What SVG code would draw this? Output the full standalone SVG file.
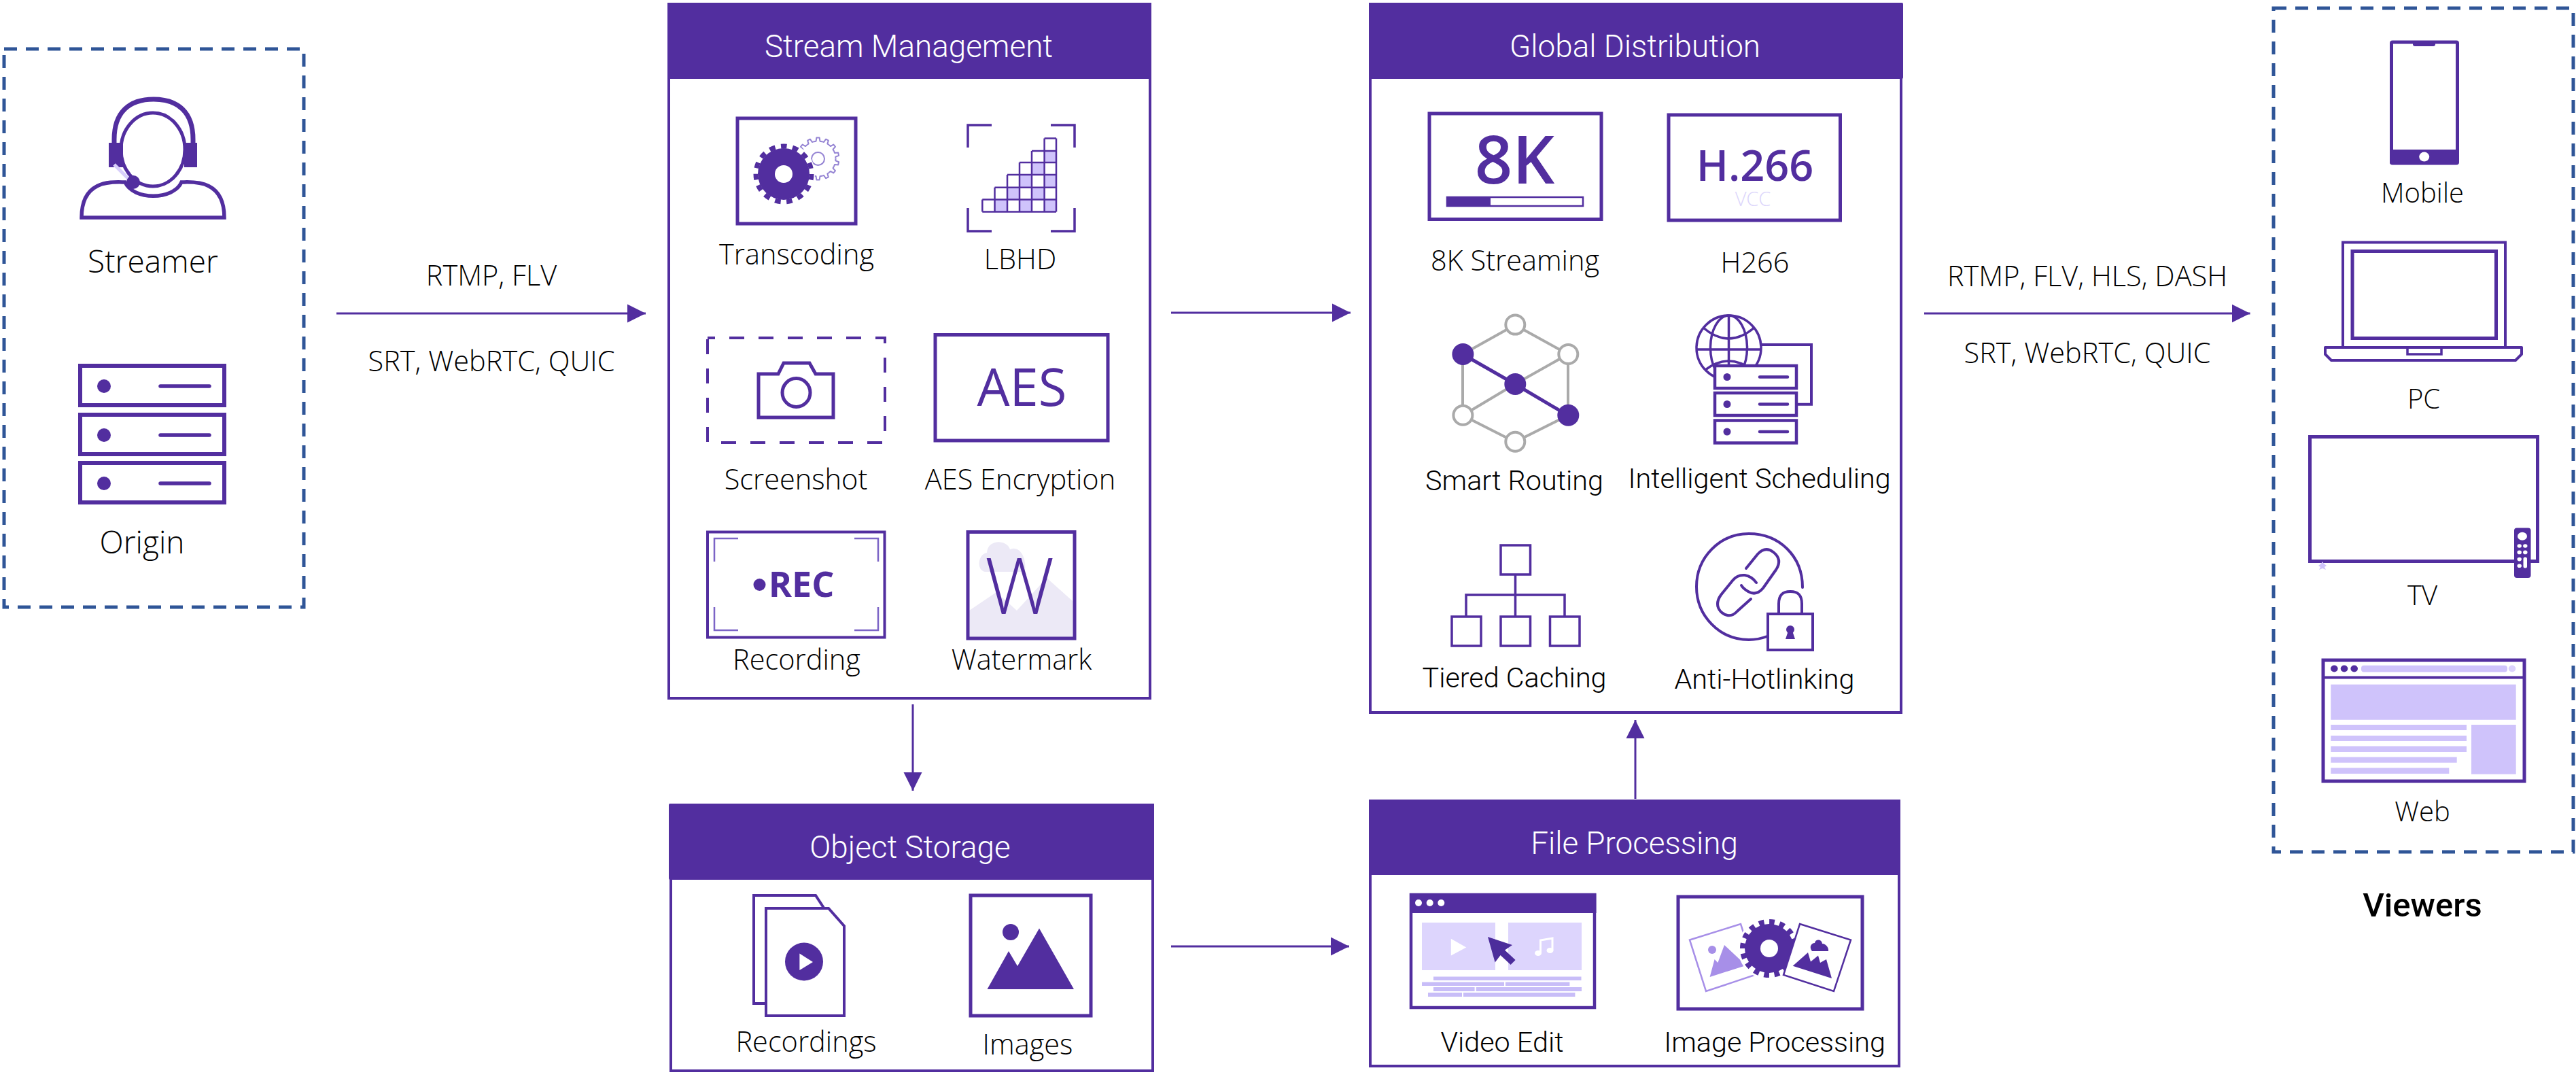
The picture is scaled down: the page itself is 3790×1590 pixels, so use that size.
<svg xmlns="http://www.w3.org/2000/svg" width="3790" height="1590" viewBox="0 0 3790 1590">
<style>
text{text-anchor:middle}
.os{font-family:"Open Sans","Liberation Sans",sans-serif;font-weight:300;font-size:41.5px;fill:#000}
.rb{font-family:Roboto,"Liberation Sans",sans-serif;font-weight:300;font-size:41.3px;fill:#000}
.ti{font-family:Roboto,"Liberation Sans",sans-serif;font-weight:300;font-size:45.8px;fill:#fff}
.pt{font-family:"Open Sans","Liberation Sans",sans-serif;fill:#522e9f}
.s{fill:none;stroke:#522e9f;stroke-width:5}
.w{fill:#fff;stroke:#522e9f;stroke-width:5}
.f{fill:#522e9f}
.l{fill:#cfc3fb}
.dash{fill:none;stroke:#2f5597;stroke-width:5;stroke-dasharray:19 13}
.box{fill:#fff;stroke:#522e9f;stroke-width:4}
.con{fill:none;stroke:#522e9f;stroke-width:3}
.g{fill:#fff;stroke:#aaa;stroke-width:4}
.ge{stroke:#aaa;stroke-width:4;fill:none}
</style>
<defs>
<marker id="ah" markerUnits="userSpaceOnUse" markerWidth="28" markerHeight="30" refX="27" refY="14" orient="auto"><path d="M0 0.5L27 14L0 27.5Z" fill="#522e9f"/></marker>
<g id="srv"><rect x="0" y="0" width="120" height="33" fill="#fff" stroke="#522e9f" stroke-width="4.5"/><circle cx="18" cy="16.5" r="5.5" fill="#522e9f"/><line x1="66" y1="16.5" x2="107" y2="16.5" stroke="#522e9f" stroke-width="4.5" stroke-linecap="round"/></g>
<g id="srvb"><rect x="0" y="0" width="212" height="58" fill="#fff" stroke="#522e9f" stroke-width="6"/><circle cx="35" cy="30" r="10" fill="#522e9f"/><line x1="118" y1="30" x2="190" y2="30" stroke="#522e9f" stroke-width="5.5" stroke-linecap="round"/></g>
<path id="tooth" fill="none" stroke="#9483d3" stroke-width="2" stroke-linejoin="round" d="M-5.79 -25.35L-2.94 -25.83L-2.16 -30.92L2.16 -30.92L2.94 -25.83L5.79 -25.35"/>
</defs>
<rect width="3790" height="1590" fill="#fff"/>

<g id="connectors">
<line class="con" x1="495" y1="461" x2="950" y2="461" marker-end="url(#ah)"/>
<line class="con" x1="1723" y1="460" x2="1987" y2="460" marker-end="url(#ah)"/>
<line class="con" x1="1343" y1="1036" x2="1343" y2="1163" marker-end="url(#ah)"/>
<line class="con" x1="1723" y1="1392" x2="1985" y2="1392" marker-end="url(#ah)"/>
<line class="con" x1="2406" y1="1175" x2="2406" y2="1059" marker-end="url(#ah)"/>
<line class="con" x1="2831" y1="461" x2="3310.5" y2="461" marker-end="url(#ah)"/>
<text class="os" x="723" y="420">RTMP, FLV</text>
<text class="os" x="723" y="546">SRT, WebRTC, QUIC</text>
<text class="os" x="3071" y="421">RTMP, FLV, HLS, DASH</text>
<text class="os" x="3071" y="534">SRT, WebRTC, QUIC</text>
</g>

<g id="sources">
<rect class="dash" x="6" y="72" width="441" height="821"/>
<g id="streamer">
<path d="M168 212V205C168 165 190 146 226 146S284 165 284 205V212" fill="none" stroke="#522e9f" stroke-width="7"/>
<path d="M184 268C168 268 120 262 120 320H330C330 262 282 268 267 268C255 295 196 295 184 268Z" fill="#fff" stroke="#522e9f" stroke-width="5.5"/>
<ellipse cx="225" cy="220" rx="47" ry="54" fill="#fff" stroke="#522e9f" stroke-width="5"/>
<rect class="f" x="160" y="210" width="21" height="36"/><rect class="f" x="271" y="210" width="19" height="36"/>
<line x1="168" y1="242" x2="194" y2="268" stroke="#d8cffb" stroke-width="5"/>
<circle class="f" cx="196" cy="268" r="10"/>
<text class="os" x="225" y="401" style="font-size:46px">Streamer</text>
</g>
<g id="origin">
<use href="#srvb" x="118" y="538"/><use href="#srvb" x="118" y="610"/><use href="#srvb" x="118" y="681"/>
<text class="os" x="209" y="814" style="font-size:46px">Origin</text>
</g>
</g>

<g id="stream-management">
<rect class="box" x="984" y="6" width="708" height="1021"/>
<rect class="f" x="982" y="4" width="712" height="112" rx="2"/>
<text class="ti" x="1337" y="84">Stream Management</text>
<g id="transcoding">
<rect class="s" x="1085" y="174" width="174" height="155"/>
<g transform="translate(1203.5 233.5)">
<use href="#tooth"/><use href="#tooth" transform="rotate(25.71)"/><use href="#tooth" transform="rotate(51.43)"/><use href="#tooth" transform="rotate(77.14)"/><use href="#tooth" transform="rotate(102.86)"/><use href="#tooth" transform="rotate(128.57)"/><use href="#tooth" transform="rotate(154.29)"/><use href="#tooth" transform="rotate(180)"/><use href="#tooth" transform="rotate(205.71)"/><use href="#tooth" transform="rotate(231.43)"/><use href="#tooth" transform="rotate(257.14)"/><use href="#tooth" transform="rotate(282.86)"/><use href="#tooth" transform="rotate(308.57)"/><use href="#tooth" transform="rotate(334.29)"/>
<circle r="9.5" fill="#fff" stroke="#9483d3" stroke-width="2"/>
</g>
<circle fill="#fff" cx="1153" cy="256" r="46"/>
<circle class="f" cx="1153" cy="256" r="38"/>
<circle cx="1153" cy="256" r="41" fill="none" stroke="#522e9f" stroke-width="7" stroke-dasharray="8.6 8.57"/>
<circle cx="1153" cy="256" r="13" fill="#fff"/>
<text class="os" x="1172" y="389">Transcoding</text>
</g>
<g id="lbhd">
<path class="s" style="stroke-width:3.5" d="M1424 217V184H1459M1546 184H1581V217M1424 306V340H1459M1546 340H1581V306"/>
<path class="l" d="M1463.5 293.6h18.5v17.8h-18.5zM1500 293.6h18v17.8h-18zM1536.6 293.6h17.4v17.8h-17.4zM1482 275.7h18v17.9h-18zM1518 275.7h18.6v17.9h-18.6zM1500 257h18v18.7h-18zM1536.6 257h17.4v18.7h-17.4zM1518 239h18.6v18h-18.6zM1536.6 222h17.4v17h-17.4z"/>
<path fill="none" stroke="#522e9f" stroke-width="2.5" d="M1445.3 293.6H1554M1445.3 311.4H1554M1463.5 275.7H1554M1482 257H1554M1500 239H1554M1518 222H1554M1536.6 203.6H1554M1554 203.6V311.4M1536.6 203.6V311.4M1518 222V311.4M1500 239V311.4M1482 257V311.4M1463.5 275.7V311.4M1445.3 293.6V311.4"/>
<text class="os" x="1501" y="396">LBHD</text>
</g>
<g id="screenshot">
<rect class="s" x="1041" y="497" width="261" height="154" style="stroke-width:4;stroke-dasharray:22 21;stroke-dashoffset:11"/>
<path class="s" d="M1116 550H1145L1153 534H1191L1200 550H1226V614H1116Z"/>
<ellipse class="s" cx="1171.5" cy="577.5" rx="20.5" ry="21"/>
<text class="os" x="1171" y="720">Screenshot</text>
</g>
<g id="aes">
<rect class="s" x="1376" y="492.5" width="254" height="155.5"/>
<text class="pt" x="1503.5" y="597" style="font-size:76px">AES</text>
<text class="os" x="1501" y="720">AES Encryption</text>
</g>
<g id="recording">
<rect class="s" style="stroke-width:4" x="1041" y="782.5" width="260.5" height="155"/>
<path fill="none" stroke="#7c64c6" stroke-width="2.5" d="M1051 826V792H1086M1257 792H1292V826M1051 893V927H1086M1257 927H1292V893"/>
<circle class="f" cx="1117.5" cy="860" r="9"/>
<text class="pt" x="1179" y="878" style="font-size:52px;font-weight:700">REC</text>
<text class="os" x="1172" y="985">Recording</text>
</g>
<g id="watermark">
<rect fill="#fff" x="1424" y="782.5" width="157" height="156.5"/>
<path fill="#ece9f6" d="M1426 898L1466 871L1496 898L1540 850L1578 884V937H1426Z"/>
<path fill="#ece9f6" d="M1449 841C1436 838 1439 815 1452 813C1453 793 1481 793 1486 808C1500 802 1511 820 1508 841Z"/>
<rect class="s" x="1424" y="782.5" width="157" height="156.5"/>
<text class="pt" x="1500" y="902.5" style="font-size:115px;font-weight:300">W</text>
<text class="os" x="1503" y="985">Watermark</text>
</g>
</g>

<g id="object-storage">
<rect class="box" x="987" y="1184" width="709" height="391"/>
<rect class="f" x="984" y="1182" width="712" height="112" rx="2"/>
<text class="ti" x="1339" y="1262">Object Storage</text>
<g id="recordings">
<path class="s" style="stroke-width:4" fill="#fff" d="M1109 1317H1200L1219 1346V1476H1109Z"/>
<path class="w" style="stroke-width:4" d="M1127 1336H1219L1242 1362V1494H1127Z"/>
<circle class="f" cx="1183" cy="1414.5" r="28"/>
<path fill="#fff" d="M1176.4 1402.5L1196 1415L1176.4 1427Z"/>
<text class="os" x="1186" y="1547">Recordings</text>
</g>
<g id="images">
<rect class="s" x="1428" y="1317" width="177" height="177"/>
<circle class="f" cx="1487" cy="1371" r="12"/>
<path class="f" d="M1452.5 1455L1484 1399L1497 1421L1529 1365.5L1580 1455Z"/>
<text class="os" x="1512" y="1551">Images</text>
</g>
</g>

<g id="global-distribution">
<rect class="box" x="2016" y="6" width="781" height="1042"/>
<rect class="f" x="2014" y="4" width="786" height="112" rx="2"/>
<text class="ti" x="2405.5" y="84">Global Distribution</text>
<g id="k8">
<rect class="s" x="2103" y="167" width="253" height="155.5"/>
<text class="pt" x="2228.5" y="269.5" style="font-size:97px;font-weight:600">8K</text>
<rect x="2129" y="290" width="200" height="13" fill="#fff" stroke="#522e9f" stroke-width="2.5"/>
<rect class="f" x="2128" y="289" width="65" height="15"/>
<text class="os" x="2229" y="397.5">8K Streaming</text>
</g>
<g id="h266">
<rect class="s" x="2455" y="169" width="252.5" height="155"/>
<text class="pt" x="2582" y="266" style="font-size:63px;font-weight:600">H.266</text>
<text class="pt" x="2579" y="303" style="font-size:29px;font-weight:300;fill:#dcd6fb">VCC</text>
<text class="os" x="2582" y="400.5">H266</text>
</g>
<g id="smart-routing">
<path class="ge" d="M2229 478L2152 521V611L2229 650L2307 611V521L2229 478M2307 521L2229 565L2152 611"/>
<path class="s" d="M2152 521L2229 565L2307 611"/>
<circle class="g" cx="2229.3" cy="477.6" r="14"/><circle class="g" cx="2307.3" cy="521" r="14"/><circle class="g" cx="2152.4" cy="610.7" r="14"/><circle class="g" cx="2229.3" cy="649.8" r="14"/>
<circle class="f" cx="2152.4" cy="521" r="16"/><circle class="f" cx="2229.3" cy="565" r="16"/><circle class="f" cx="2307.3" cy="610.7" r="16"/>
<text class="rb" x="2228" y="721">Smart Routing</text>
</g>
<g id="intelligent-scheduling">
<g fill="none" stroke="#522e9f" stroke-width="3.5">
<circle cx="2543.5" cy="511.5" r="47.5"/>
<ellipse cx="2543.5" cy="511.5" rx="27" ry="47.5"/>
<path d="M2543.5 464V559M2496 514H2591M2506 482Q2543 514 2581 482M2509 544Q2543 518 2578 544"/>
<path stroke-width="4" d="M2592 507H2665V594.7H2643"/>
</g>
<use href="#srv" x="2523" y="538"/><use href="#srv" x="2523" y="578"/><use href="#srv" x="2523" y="618.5"/>
<text class="rb" x="2588.5" y="718">Intelligent Scheduling</text>
</g>
<g id="tiered-caching">
<g fill="none" stroke="#522e9f" stroke-width="3.5">
<rect x="2208" y="802" width="43.5" height="43"/><rect x="2136" y="907" width="43" height="43"/><rect x="2208" y="907" width="43.5" height="43"/><rect x="2280.5" y="907" width="43.5" height="43"/>
<path d="M2229.5 845V907M2157 907V875H2302V907"/>
</g>
<text class="rb" x="2228" y="1010.5">Tiered Caching</text>
</g>
<g id="anti-hotlinking">
<g fill="none" stroke="#522e9f" stroke-width="4" stroke-linecap="round">
<path d="M2652 864C2652 818 2618 785 2573 785C2530 785 2496 820 2496 863C2496 906 2530 941 2573 941C2583 941 2592 939 2600 936"/>
<path d="M2569 836L2586 815Q2597 803 2609 812Q2623 823 2613 838L2594 865Q2584 877 2572 870Q2565 866 2562 861"/>
<path d="M2584 857Q2578 848 2567 846Q2556 845 2549 854L2532 875Q2522 889 2532 900Q2545 911 2556 899L2576 881"/>
<path d="M2617 903V888C2617 874 2624 870 2634 870S2651 874 2651 888V903"/>
<rect fill="#fff" x="2601" y="903" width="66" height="53"/>
</g>
<circle class="f" cx="2634" cy="926" r="6"/><path class="f" d="M2631 928H2637L2641 940H2627Z"/>
<text class="rb" x="2596" y="1012.5">Anti-Hotlinking</text>
</g>
</g>

<g id="file-processing">
<rect class="box" x="2016" y="1178" width="778" height="390"/>
<rect class="f" x="2014" y="1176" width="782" height="111" rx="2"/>
<text class="ti" x="2404.5" y="1255.5">File Processing</text>
<g id="video-edit">
<rect class="s" style="stroke-width:4.5" x="2076" y="1316" width="270" height="166"/>
<rect class="f" x="2074" y="1314" width="274.5" height="29"/>
<g fill="#fff"><circle cx="2087" cy="1328" r="5"/><circle cx="2103.7" cy="1328" r="5"/><circle cx="2120.3" cy="1328" r="5"/></g>
<rect x="2092" y="1357" width="108" height="70" fill="#ddd5fd"/><rect x="2219" y="1357" width="108" height="70" fill="#ddd5fd"/>
<path fill="#fff" d="M2134.8 1380.7L2157.3 1393.5L2134.8 1405.5Z"/>
<path fill="none" stroke="#fff" stroke-width="3" d="M2266.5 1402V1383L2284 1380V1398"/>
<ellipse fill="#fff" cx="2263" cy="1402" rx="5" ry="4"/><ellipse fill="#fff" cx="2280.5" cy="1398" rx="5" ry="4"/>
<path fill="#4c2d9b" d="M2189 1378L2225 1390L2214 1397.5L2229.6 1412L2222.6 1419L2207.6 1405L2199.6 1415.6Z"/>
<path fill="#c8bdf8" d="M2109 1436.4H2326.5V1442H2109ZM2092 1444.4H2213V1450H2092ZM2215 1444.4H2309.4V1450H2215ZM2109 1452H2169.6V1458H2109ZM2171.8 1452H2327V1458H2171.8ZM2101 1460H2151V1466H2101ZM2153 1460H2317.4V1466H2153Z"/>
<text class="rb" x="2210" y="1547">Video Edit</text>
</g>
<g id="image-processing">
<rect class="s" x="2469" y="1319" width="271" height="165"/>
<path fill="#fff" stroke="#a78fe8" stroke-width="2.5" d="M2486 1382.5L2561 1359L2585 1433L2510 1458Z"/>
<path fill="#a78fe8" d="M2515.6 1437L2522.6 1411L2527.4 1416L2537 1390L2569 1420Z"/>
<circle fill="#a78fe8" cx="2519" cy="1397" r="6"/>
<circle fill="#fff" cx="2603" cy="1395" r="46"/>
<circle class="f" cx="2603" cy="1395" r="36"/>
<circle cx="2603" cy="1395" r="39" fill="none" stroke="#522e9f" stroke-width="8" stroke-dasharray="7.7 7.6"/>
<circle fill="#fff" cx="2603" cy="1395" r="13"/>
<path fill="#fff" stroke="#522e9f" stroke-width="2.5" d="M2648 1359L2723 1382.5L2698 1458L2624 1434Z"/>
<path class="f" d="M2637.7 1420.7L2660 1401L2664 1414.5L2675 1405.5L2678 1416L2687 1411L2695 1439Z"/>
<path class="f" d="M2666 1399C2661 1393 2665 1387 2670 1387C2671 1381 2680 1381 2681 1388C2687 1388 2691 1395 2690 1399Z"/>
<text class="rb" x="2611" y="1547">Image Processing</text>
</g>
</g>

<g id="viewers">
<rect class="dash" x="3345" y="12" width="441" height="1241"/>
<g id="mobile">
<rect class="s" x="3518.5" y="62" width="97" height="178" rx="1.5"/>
<rect class="f" x="3516" y="220" width="101.5" height="21" rx="2"/>
<ellipse fill="#fff" cx="3566.7" cy="230.6" rx="7.5" ry="7"/>
<path class="f" d="M3550 60H3583V65Q3583 68 3580 68H3553Q3550 68 3550 65Z"/>
<text class="os" x="3564" y="297.5" style="font-size:40px">Mobile</text>
</g>
<g id="pc">
<path class="s" style="stroke-width:4" d="M3447 510V356.5H3686V510"/>
<rect class="s" x="3461" y="369.5" width="211.5" height="128"/>
<path class="s" style="stroke-width:4" fill="#fff" stroke-linejoin="round" d="M3421 511H3710V521L3701 530H3430L3421 521Z"/>
<rect class="s" style="stroke-width:3.5" x="3542" y="511" width="50" height="10"/>
<text class="os" x="3566" y="601" style="font-size:40px">PC</text>
</g>
<g id="tv">
<rect class="s" x="3398.5" y="642.5" width="335" height="183"/>
<path class="l" d="M3417 826L3419 829L3423 832L3420 834L3422 838L3417 836L3412 838L3414 834L3411 832L3415 829Z"/>
<rect class="f" x="3699" y="776.5" width="24.5" height="73.5" rx="4"/>
<g fill="#fff"><ellipse cx="3711" cy="788.7" rx="7" ry="6"/>
<ellipse cx="3706.7" cy="803" rx="3.2" ry="2.8"/><ellipse cx="3715.3" cy="803" rx="3.2" ry="2.8"/>
<ellipse cx="3706.7" cy="812.4" rx="3.2" ry="2.8"/><ellipse cx="3715.3" cy="812.4" rx="3.2" ry="2.8"/>
<ellipse cx="3706.7" cy="822.6" rx="3.2" ry="2.8"/><ellipse cx="3706.7" cy="832.3" rx="3.2" ry="2.8"/>
<rect x="3712.5" y="819.5" width="5.5" height="16" rx="2.5"/></g>
<text class="os" x="3564" y="889.5" style="font-size:40px">TV</text>
</g>
<g id="web">
<rect class="s" x="3418" y="971" width="296" height="178"/>
<line class="s" x1="3416" y1="996.5" x2="3715" y2="996.5" style="stroke-width:4"/>
<g class="f"><ellipse cx="3434.3" cy="983.5" rx="5.3" ry="5"/><ellipse cx="3449" cy="983.5" rx="5.3" ry="5"/><ellipse cx="3463.7" cy="983.5" rx="5.3" ry="5"/></g>
<rect class="l" x="3474" y="978.7" width="215" height="9.7" rx="4"/>
<ellipse fill="#dcd3fc" cx="3696" cy="983.5" rx="5.3" ry="5"/>
<path class="l" d="M3429.3 1006.8H3701.7V1058.7H3429.3ZM3636 1066H3701.7V1138.7H3636ZM3429.3 1066H3629V1074H3429.3ZM3429.3 1082H3629V1090H3429.3ZM3429.3 1097.5H3629V1106H3429.3ZM3429.3 1113.5H3614.7V1121.7H3429.3ZM3429.3 1129.5H3603.3V1138H3429.3Z"/>
<text class="os" x="3564" y="1207.5" style="font-size:40px">Web</text>
</g>
<text x="3564" y="1348" style="font-family:Roboto,'Liberation Sans',sans-serif;font-weight:500;font-size:49px;fill:#000">Viewers</text>
</g>
</svg>
